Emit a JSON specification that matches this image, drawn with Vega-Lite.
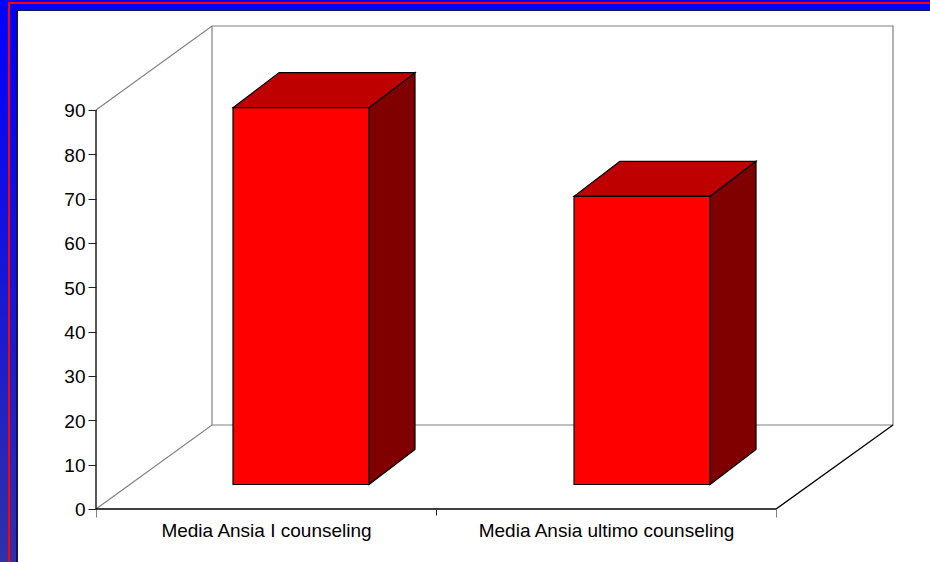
{
  "$schema": "https://vega.github.io/schema/vega-lite/v6.json",
  "width": 930,
  "height": 562,
  "padding": 0,
  "autosize": {"type": "none"},
  "background": "#ffffff",
  "config": {"view": {"stroke": null}, "font": "Liberation Sans"},
  "encoding": {
    "x": {
      "type": "quantitative",
      "scale": {"domain": [-0.28235, 2.45294], "nice": false, "zero": false},
      "axis": {
        "orient": "bottom",
        "offset": -53,
        "zindex": 1,
        "title": null,
        "grid": false,
        "domain": false,
        "values": [0, 0.5, 1, 1.5, 2],
        "tickSize": {"expr": "datum.value == 1 ? 6 : (datum.value == 0 || datum.value == 2) ? 8 : 0"},
        "tickColor": {"expr": "datum.value == 1 ? '#202020' : '#808080'"},
        "tickWidth": 1,
        "labelExpr": "datum.value == 0.5 ? 'Media Ansia I counseling' : datum.value == 1.5 ? 'Media Ansia ultimo counseling' : ''",
        "labelFont": "Liberation Sans",
        "labelFontSize": 19,
        "labelColor": "#000000",
        "labelPadding": 12,
        "labelLimit": 500,
        "labelOverlap": false,
        "labelFlush": false
      }
    },
    "y": {
      "type": "quantitative",
      "scale": {"domain": [-11.955, 114.812], "nice": false, "zero": false},
      "axis": {
        "orient": "left",
        "offset": -96,
        "zindex": 1,
        "title": null,
        "grid": false,
        "domain": false,
        "values": [0, 10, 20, 30, 40, 50, 60, 70, 80, 90],
        "tickSize": 8,
        "tickColor": "#202020",
        "tickWidth": 1,
        "labelFont": "Liberation Sans",
        "labelFontSize": 19,
        "labelColor": "#000000",
        "labelPadding": 3,
        "labelOffset": 1,
        "labelOverlap": false,
        "labelFlush": false
      }
    }
  },
  "layer": [
    {
      "data": {"values": [{"panel": "outer band"}]},
      "mark": {"type": "rect", "fill": {"gradient": "linear", "x1": 0, "y1": 0, "x2": 0, "y2": 1, "stops": [{"offset": 0, "color": "#0000ff"}, {"offset": 0.5, "color": "#1616d8"}, {"offset": 1, "color": "#3030a8"}]}},
      "encoding": {"x": {"datum": -0.28235}, "x2": {"datum": 2.45294}, "y": {"datum": 114.812}, "y2": {"datum": -11.955}}
    },
    {
      "data": {"values": [{"panel": "red band"}]},
      "mark": {"type": "rect", "fill": "#ff0000"},
      "encoding": {"x": {"datum": -0.25882}, "x2": {"datum": 2.45294}, "y": {"datum": 114.361}, "y2": {"datum": -11.955}}
    },
    {
      "data": {"values": [{"panel": "inner band"}]},
      "mark": {"type": "rect", "fill": {"gradient": "linear", "x1": 0, "y1": 0, "x2": 0, "y2": 1, "stops": [{"offset": 0, "color": "#0000ff"}, {"offset": 0.5, "color": "#1616d8"}, {"offset": 1, "color": "#3030a8"}]}},
      "encoding": {"x": {"datum": -0.25294}, "x2": {"datum": 2.45294}, "y": {"datum": 113.91}, "y2": {"datum": -11.955}}
    },
    {
      "data": {"values": [{"panel": "dark rim"}]},
      "mark": {"type": "rect", "fill": "#141450"},
      "encoding": {"x": {"datum": -0.23529}, "x2": {"datum": 2.45294}, "y": {"datum": 112.556}, "y2": {"datum": -11.955}}
    },
    {
      "data": {"values": [{"panel": "page"}]},
      "mark": {"type": "rect", "fill": "#ffffff"},
      "encoding": {"x": {"datum": -0.22941}, "x2": {"datum": 2.45294}, "y": {"datum": 112.331}, "y2": {"datum": -11.955}}
    },
    {
      "data": {"values": [
        {"edge": "wall", "x": 0, "y": 90},
        {"edge": "wall", "x": 0.3412, "y": 108.95},
        {"edge": "wall", "x": 2.3441, "y": 108.95},
        {"edge": "wall", "x": 2.3441, "y": 18.95},
        {"edge": "wall", "x": 0.3412, "y": 18.95},
        {"edge": "wall", "x": 0, "y": 0},
        {"edge": "corner", "x": 0.3412, "y": 108.95},
        {"edge": "corner", "x": 0.3412, "y": 18.95}
      ]},
      "mark": {"type": "line", "stroke": "#808080", "strokeWidth": 1.2},
      "encoding": {
        "x": {"field": "x"},
        "y": {"field": "y"},
        "detail": {"field": "edge"},
        "order": {"value": null}
      }
    },
    {
      "data": {"values": [
        {"x": 0, "y": 90},
        {"x": 0, "y": 0},
        {"x": 2, "y": 0},
        {"x": 2.3441, "y": 18.95}
      ]},
      "mark": {"type": "line", "stroke": "#000000", "strokeWidth": 1.3},
      "encoding": {
        "x": {"field": "x"},
        "y": {"field": "y"},
        "order": {"value": null}
      }
    },
    {
      "data": {"values": [
        {"bar": "Media Ansia I counseling", "x": 0.7, "top": 85, "base": 0},
        {"bar": "Media Ansia I counseling", "x": 0.8353, "top": 92.9, "base": 7.9},
        {"bar": "Media Ansia ultimo counseling", "x": 1.703, "top": 65, "base": 0},
        {"bar": "Media Ansia ultimo counseling", "x": 1.8383, "top": 72.9, "base": 7.9}
      ]},
      "mark": {"type": "area", "fill": "#800000", "stroke": "#000000", "strokeWidth": 1.2, "xOffset": 35, "yOffset": -24.5, "y2Offset": -24.5},
      "encoding": {
        "x": {"field": "x"},
        "y": {"field": "top"},
        "y2": {"field": "base"},
        "detail": {"field": "bar"}
      }
    },
    {
      "data": {"values": [
        {"bar": "Media Ansia I counseling", "level": 85, "left": 0.3, "right": 0.7},
        {"bar": "Media Ansia I counseling", "level": 92.9, "left": 0.4353, "right": 0.8353},
        {"bar": "Media Ansia ultimo counseling", "level": 65, "left": 1.303, "right": 1.703},
        {"bar": "Media Ansia ultimo counseling", "level": 72.9, "left": 1.4383, "right": 1.8383}
      ]},
      "mark": {"type": "area", "orient": "horizontal", "fill": "#bf0000", "stroke": "#000000", "strokeWidth": 1.2, "xOffset": 35, "x2Offset": 35, "yOffset": -24.5},
      "encoding": {
        "x": {"field": "left"},
        "x2": {"field": "right"},
        "y": {"field": "level"},
        "detail": {"field": "bar"}
      }
    },
    {
      "data": {"values": [
        {"bar": "Media Ansia I counseling", "start": 0.3, "end": 0.7, "value": 85},
        {"bar": "Media Ansia ultimo counseling", "start": 1.303, "end": 1.703, "value": 65}
      ]},
      "mark": {"type": "rect", "fill": "#ff0000", "stroke": "#000000", "strokeWidth": 1.2, "xOffset": 35, "x2Offset": 35, "yOffset": -24.5, "y2Offset": -24.5},
      "encoding": {
        "x": {"field": "start"},
        "x2": {"field": "end"},
        "y": {"field": "value"},
        "y2": {"datum": 0}
      }
    }
  ]
}
